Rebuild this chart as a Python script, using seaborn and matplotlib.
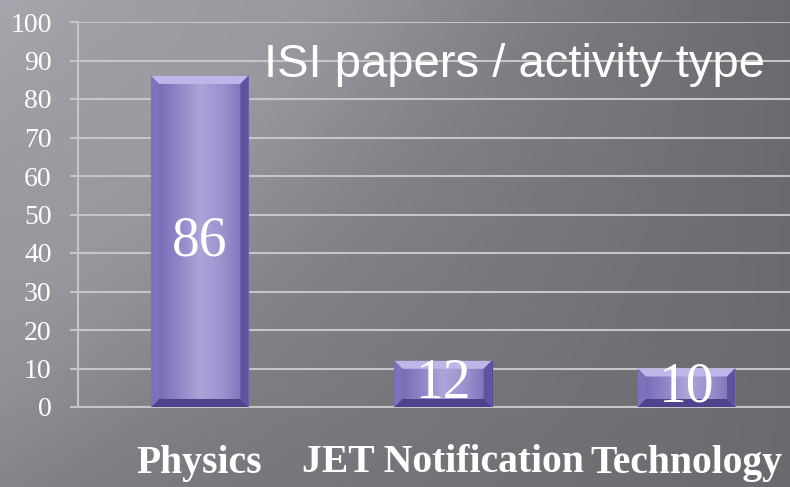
import numpy as np
import pandas as pd
import seaborn as sns
import matplotlib.pyplot as plt
from matplotlib.colors import LinearSegmentedColormap
from matplotlib.patches import Polygon

# data
categories = ["Physics", "JET Notification", "Technology"]
papers = [86, 12, 10]
y_ticks = list(range(0, 101, 10))
title = "ISI papers / activity type"

sns.set_style("white")
plt.rcParams["font.family"] = ["Liberation Serif", "DejaVu Serif"]

fig = plt.figure(figsize=(7.9, 4.87), dpi=100)

# grey slide background (bilinear gradient, light top-left)
bg = fig.add_axes([0, 0, 1, 1], zorder=-10)
xx, yy = np.meshgrid(np.linspace(0, 1, 400), np.linspace(0, 1, 250))
v = (0.66 * (1 - xx) * (1 - yy) + 0.42 * xx * (1 - yy)
     + 0.50 * (1 - xx) * yy + 0.42 * xx * yy)
# soft diagonal light band
d = xx * 790 + yy * 487 * 0.9 - 330
v = v + 0.04 * np.exp(-(d / 160) ** 2)
rgb = np.dstack([v * 1.0, v * 0.985, v * 1.03]).clip(0, 1)
bg.imshow(rgb, aspect="auto", extent=[0, 1, 0, 1])
bg.axis("off")

ax = fig.add_axes([78 / 790, 80 / 487, 730 / 790, 385 / 487])
ax.patch.set_alpha(0)

df = pd.DataFrame({"category": categories, "papers": papers})
sns.barplot(data=df, x="category", y="papers", color="#8f87c9", width=0.4,
            saturation=1, edgecolor="#55498f", linewidth=0.8, ax=ax, zorder=3)

# shaded bar faces with a bevelled look
face = LinearSegmentedColormap.from_list(
    "face", ["#6f64b0", "#8b82c6", "#aba5d8", "#9990cf", "#7569b3"])
grad = np.linspace(0, 1, 200).reshape(1, -1)
bx = 8 / 243.5  # bevel size in data units
by = 8 / 3.85
for p in list(ax.patches):
    x0, y0, w, h = p.get_x(), p.get_y(), p.get_width(), p.get_height()
    im = ax.imshow(grad, extent=[x0, x0 + w, y0, y0 + h], aspect="auto",
                   cmap=face, zorder=3.1)
    im.set_clip_path(p)
    x1, y1 = x0 + w, y0 + h
    ax.add_patch(Polygon([(x0, y1), (x1, y1), (x1 - bx, y1 - by), (x0 + bx, y1 - by)],
                         closed=True, fc="#bdb6e8", ec="none", zorder=3.2))
    ax.add_patch(Polygon([(x0, y0), (x1, y0), (x1 - bx, y0 + by), (x0 + bx, y0 + by)],
                         closed=True, fc="#4d438c", ec="none", zorder=3.2))
    ax.add_patch(Polygon([(x0, y0), (x0 + bx, y0 + by), (x0 + bx, y1 - by), (x0, y1)],
                         closed=True, fc="#7d73bd", ec="none", zorder=3.2))
    ax.add_patch(Polygon([(x1, y0), (x1 - bx, y0 + by), (x1 - bx, y1 - by), (x1, y1)],
                         closed=True, fc="#5e539f", ec="none", zorder=3.2))

ax.bar_label(ax.containers[0], label_type="center", color="white",
             fontsize=40, zorder=5)

ax.set_xlim(-0.5, 2.5)
ax.set_ylim(0, 100)
ax.set_yticks(y_ticks)
ax.set_xticks(range(len(categories)))
ax.set_xticklabels(categories, fontweight="bold", fontsize=28.5, color="white")
ax.set_xticks([-0.5, 0.5, 1.5], minor=True)
ax.set_xlabel("")
ax.set_ylabel("")

grid_c = "#c6c5c8"
ax.tick_params(axis="x", which="major", length=0, pad=27)
ax.tick_params(axis="x", which="minor", length=8, width=1.5, color=grid_c,
               direction="out")
ax.tick_params(axis="y", length=6, width=1.5, color=grid_c, direction="out",
               labelsize=20, labelcolor="white", pad=13, left=True)
ax.yaxis.grid(True, color=grid_c, linewidth=1.5)
ax.set_axisbelow(True)
for s in ["top", "right"]:
    ax.spines[s].set_visible(False)
for s in ["left", "bottom"]:
    ax.spines[s].set_color(grid_c)
    ax.spines[s].set_linewidth(1.5)

fig.text(515 / 790, (487 - 77) / 487, title, ha="center", va="baseline",
         fontsize=34, color="white", family=["Liberation Sans", "DejaVu Sans"])

fig.savefig("out.png", dpi=100)
